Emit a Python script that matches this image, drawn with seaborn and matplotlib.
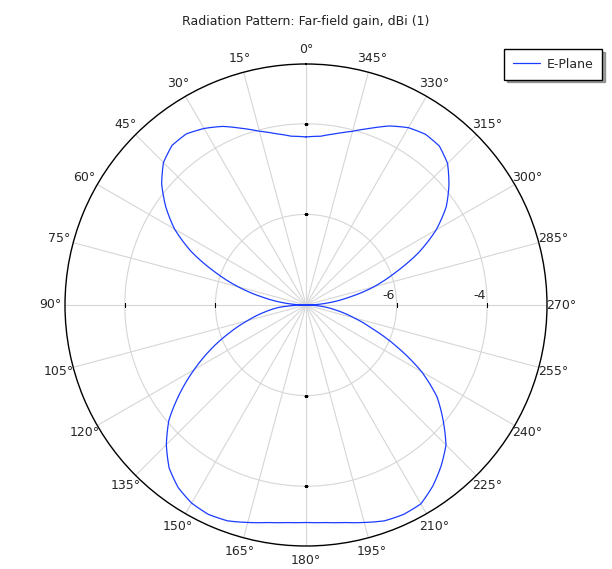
import numpy as np
import pandas as pd
import matplotlib
matplotlib.use("Agg")
import matplotlib.pyplot as plt
import seaborn as sns

# E-plane far-field gain (dBi), angle in degrees
angle_deg = [0, 5, 10, 15, 20, 25, 30, 35, 40, 45, 50, 55, 60, 65, 70, 75, 80, 85,
             90, 95, 100, 105, 110, 115, 120, 125, 130, 135, 140, 145, 150, 155, 160, 165,
             170, 175, 180, 185, 190,
             195, 200, 205, 210, 215, 220, 225, 230, 235, 240, 245, 250, 255, 260, 265,
             270, 275, 280, 285, 290, 295, 300, 305, 310, 315, 320, 325, 330, 335, 340,
             345, 350, 355, 360]
gain_db = [-4.29, -4.26, -4.16, -4.03, -3.85, -3.65, -3.50, -3.39, -3.40, -3.55, -3.84,
           -4.22, -4.65, -5.20, -5.85, -6.45, -7.05, -7.55,
           -8.00, -7.40, -7.05, -6.66, -6.20, -5.68, -5.15, -4.60, -4.05, -3.64, -3.30,
           -3.08, -2.95, -2.90, -2.93, -3.03,
           -3.125, -3.18, -3.20, -3.18, -3.125,
           -3.03, -2.93, -2.90, -2.93, -3.12, -3.36, -3.63, -4.05, -4.47, -5.05, -5.75,
           -6.40, -6.90, -7.30, -7.65,
           -8.00, -7.55, -7.05, -6.45, -5.90, -5.25, -4.68, -4.22, -3.88, -3.58, -3.42,
           -3.40, -3.48, -3.64, -3.85, -4.03, -4.16, -4.26, -4.29]

r_min, r_max = -8, -2.68
r_ticks = [-6, -4]
theta_ticks = list(range(0, 360, 15))
cardinal = [0, 90, 180, 270]

df = pd.DataFrame({"theta": np.deg2rad(angle_deg), "gain": np.clip(gain_db, r_min, None)})

sns.set_style("white")
fig = plt.figure(figsize=(6.12, 5.69), dpi=100)
ax = fig.add_axes([65 / 612, 23 / 569, 482 / 612, 482 / 569], projection="polar")
ax.set_theta_zero_location("N")
ax.set_theta_direction(1)

sns.lineplot(data=df, x="theta", y="gain", ax=ax, sort=False, color="#1a3cff",
             lw=0.9, label="E-Plane", legend=False)
# draw the curve smoothly in polar space between samples
ax.lines[0].get_path()._interpolation_steps = 12

ax.set_ylim(r_min, r_max)
ax.set_yticks(r_ticks)
ax.set_yticklabels([])
for r in r_ticks:
    ax.annotate(str(r), xy=(np.deg2rad(270), r), xytext=(-1, 2), textcoords="offset points",
                ha="right", va="bottom", fontsize=9)
ax.set_thetagrids(theta_ticks, [f"{t}°" for t in theta_ticks], fontsize=9)
ax.tick_params(axis="x", pad=0)
ax.grid(True, color="#d6d6d6", lw=0.8)
ax.spines["polar"].set_color("black")
ax.spines["polar"].set_linewidth(1.0)
ax.set_xlabel("")
ax.set_ylabel("")

# small black tick marks on the cardinal spokes
for t in cardinal:
    mk = "_" if t in (0, 180) else "|"
    ax.plot(np.deg2rad([t] * len(r_ticks)), r_ticks, ls="none", marker=mk,
            color="black", ms=3, mew=0.8)

fig.text(0.5, 1 - 21 / 569, "Radiation Pattern: Far-field gain, dBi (1)", ha="center",
         va="center", fontsize=9, color="#222222")

handles, labels = ax.get_legend_handles_labels()
leg = fig.legend(handles[:1], labels[:1], loc="upper right",
                 bbox_to_anchor=(602 / 612, 1 - 49 / 569),
                 fancybox=False, shadow=True, edgecolor="black", fontsize=9,
                 handlelength=2.2, handletextpad=0.5, borderpad=0.7, borderaxespad=0)
leg.get_frame().set_linewidth(1.0)

fig.savefig("out.png", dpi=100)
